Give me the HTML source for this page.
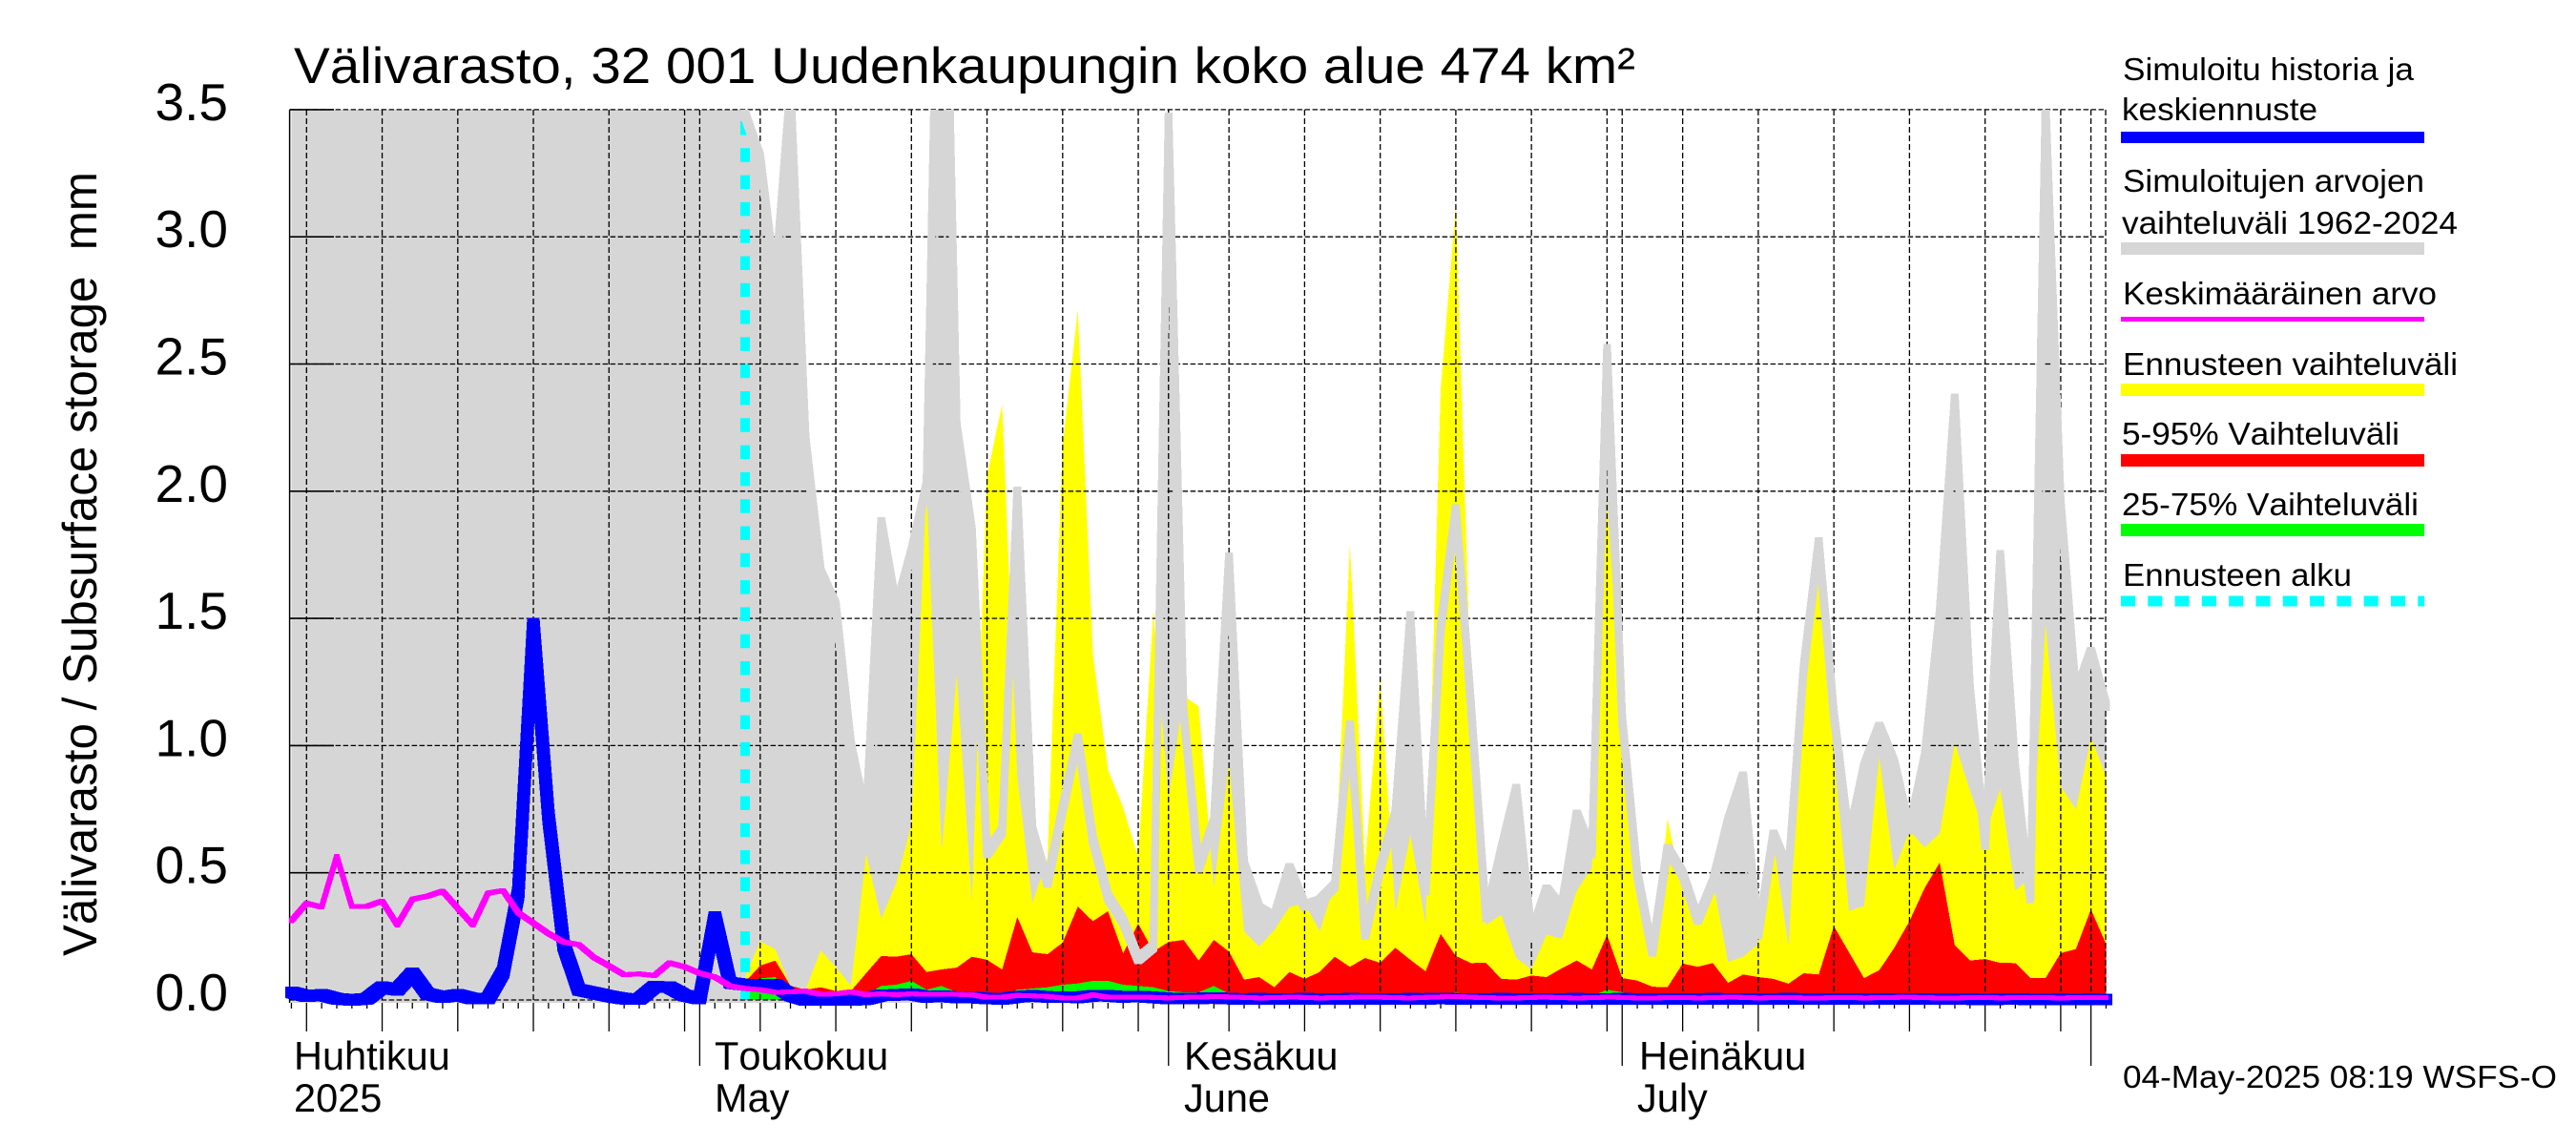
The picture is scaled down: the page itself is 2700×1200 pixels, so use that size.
<!DOCTYPE html>
<html lang="fi">
<head>
<meta charset="utf-8">
<title>Välivarasto, 32 001 Uudenkaupungin koko alue 474 km²</title>
<style>
html,body{margin:0;padding:0;background:#fff;width:2700px;height:1200px;overflow:hidden}
svg{display:block}
text{font-family:"Liberation Sans",sans-serif;fill:#000;font-kerning:none}
.leg{font-size:33px}
</style>
</head>
<body>
<svg id="chart" xmlns="http://www.w3.org/2000/svg" width="2700" height="1200" viewBox="0 0 2700 1200">
  <defs><clipPath id="plot-clip"><rect x="295" y="115" width="1920" height="939"/></clipPath></defs>
  <rect x="0" y="0" width="2700" height="1200" fill="#fff"/>
  <text x="308" y="87" font-size="53" textLength="1406" lengthAdjust="spacingAndGlyphs">Välivarasto, 32 001 Uudenkaupungin koko alue 474 km²</text>
  <text transform="translate(101,1002) rotate(-90)" font-size="50" textLength="822" lengthAdjust="spacingAndGlyphs">Välivarasto / Subsurface storage &#160;mm</text>
  <g id="bands" clip-path="url(#plot-clip)"></g>
  <g id="grid"></g>
  <g id="axes"></g>
  <g id="lines" clip-path="url(#plot-clip)"></g>

  <g>
    <g>
      <text class="leg" x="2225" y="84" textLength="305" lengthAdjust="spacingAndGlyphs">Simuloitu historia ja</text>
      <text class="leg" x="2224" y="126" textLength="205" lengthAdjust="spacingAndGlyphs">keskiennuste</text>
      <rect x="2223" y="138" width="318" height="12" fill="#0000ff"/>
    </g>
    <g>
      <text class="leg" x="2225" y="201" textLength="316" lengthAdjust="spacingAndGlyphs">Simuloitujen arvojen</text>
      <text class="leg" x="2224" y="245" textLength="352" lengthAdjust="spacingAndGlyphs">vaihteluväli 1962-2024</text>
      <rect x="2223" y="254" width="318" height="13" fill="#d6d6d6"/>
    </g>
    <g>
      <text class="leg" x="2225" y="319" textLength="329" lengthAdjust="spacingAndGlyphs">Keskimääräinen arvo</text>
      <rect x="2223" y="332" width="318" height="5" fill="#ff00ff"/>
    </g>
    <g>
      <text class="leg" x="2225" y="393" textLength="351" lengthAdjust="spacingAndGlyphs">Ennusteen vaihteluväli</text>
      <rect x="2223" y="402" width="318" height="13" fill="#ffff00"/>
    </g>
    <g>
      <text class="leg" x="2224" y="466" textLength="291" lengthAdjust="spacingAndGlyphs">5-95% Vaihteluväli</text>
      <rect x="2223" y="476" width="318" height="13" fill="#ff0000"/>
    </g>
    <g>
      <text class="leg" x="2224" y="540" textLength="311" lengthAdjust="spacingAndGlyphs">25-75% Vaihteluväli</text>
      <rect x="2223" y="549" width="318" height="13" fill="#00ff00"/>
    </g>
    <g>
      <text class="leg" x="2225" y="614" textLength="240" lengthAdjust="spacingAndGlyphs">Ennusteen alku</text>
      <line x1="2223" y1="630" x2="2541" y2="630" stroke="#00ffff" stroke-width="11" stroke-dasharray="15 13.3"/>
    </g>
  </g>
  <text class="leg" x="2225" y="1140" textLength="455" lengthAdjust="spacingAndGlyphs">04-May-2025 08:19 WSFS-O</text>
</svg>

<script>
// Day offsets are relative to 1 May 2025. History series start at day -27, forecast bands at day 3.
const historyStartDay = -27;
const forecastStartDay = 3;
const forecastLineDay = 3;

const yTicks = [0, 0.5, 1, 1.5, 2, 2.5, 3, 3.5];
const yTickLabels = ['0.0', '0.5', '1.0', '1.5', '2.0', '2.5', '3.0', '3.5'];
const monthDays = [0, 31, 61, 92];
const gridDays = [-26, -21, -16, -11, -6, -1, 0, 4, 9, 14, 19, 24, 29, 31, 35, 40, 45, 50, 55, 60, 61, 65, 70, 75, 80, 85, 90, 92];
const monthLabels = [
  ['Huhtikuu', '2025', -27, 308, 308],
  ['Toukokuu', 'May', 0, 749, 749],
  ['Kesäkuu', 'June', 31, 1241, 1241],
  ['Heinäkuu', 'July', 61, 1718, 1716]
];

const greyMax = [
  4.1,4.3,4.2,4.0,4.4,4.2,4.1,4.3,4.5,4.2,4.0,4.3,4.2,4.4,4.1,4.6,5.0,4.5,4.2,4.1,4.0,4.2,4.1,4.0,4.3,4.1,4.2,4.4,4.1,4.0,
  3.48,3.31,2.82,3.59,2.2,1.68,1.55,1.0,.71,1.88,1.54,1.76,2.02,5.0,2.25,1.84,.575,.665,2.0,.665,.46,.75,1.03,.63,.405,.31,.16,.21,3.47,1.13,
  .52,.7,1.74,.53,.36,.325,.52,.37,.39,.45,1.08,.255,.52,.73,1.51,.43,1.46,1.93,1.155,.325,.585,.83,.255,.435,.36,.73,.575,2.56,1.1,.495,
  .19,.595,.495,.315,.46,.7,.88,.257,.65,.505,1.3,1.8,1.12,.635,.915,1.075,.93,.67,.95,1.52,2.365,1.22,.607,1.75,.905,.4,3.52,1.95,1.2,1.37,1.155
];
const greyFloor = -0.012;

const yellowTop = [
  .09,.23,.2,.055,.04,.195,.13,.055,.574,.32,.46,.69,2.02,.586,1.28,.39,2.06,2.34,.88,.38,.56,2.18,2.71,1.36,.905,.757,.56,1.53,.79,1.195,
  1.155,.44,.93,.27,.21,.275,.365,.38,.27,.46,1.79,.53,1.27,.35,.65,.3,2.4,3.12,1.2,.295,.335,.165,.12,.257,.24,.43,.52,1.97,1.07,.495,
  .16,.71,.43,.29,.47,.15,.17,.22,.62,.21,1.31,1.69,.95,.35,.37,.955,.51,.665,.6,.655,1.01,.825,.65,.83,.43,.48,1.48,.84,.75,1.03,.88
];
const redTop = [
  .07,.135,.155,.056,.04,.05,.035,.035,.105,.173,.17,.18,.11,.12,.127,.17,.158,.12,.326,.187,.18,.225,.367,.31,.349,.184,.3,.19,.228,.236,
  .155,.236,.19,.08,.09,.05,.11,.083,.11,.17,.13,.165,.146,.205,.158,.113,.26,.173,.145,.146,.083,.08,.096,.09,.124,.155,.12,.255,.086,.076,
  .052,.05,.143,.13,.145,.067,.1,.09,.083,.064,.105,.1,.29,.187,.086,.117,.205,.31,.44,.54,.214,.155,.161,.146,.145,.086,.086,.184,.2,.356,.22
];
const greenTop = [
  .06,.085,.09,.02,.01,.015,.01,.01,.02,.055,.06,.075,.04,.055,.03,.025,.02,.015,.04,.045,.05,.06,.065,.075,.075,.06,.055,.05,.035,.03,
  .03,.055,.025,.02,.015,.015,.015,.015,.015,.015,.015,.015,.015,.015,.015,.015,.02,.03,.015,.015,.015,.015,.015,.015,.015,.015,.015,.04,.03,.015,
  .015,.015,.015,.015,.015,.015,.015,.015,.015,.015,.015,.015,.015,.015,.015,.015,.015,.015,.015,.015,.015,.015,.015,.015,.015,.015,.015,.015,.015,.015,.015
];
const blueLine = [
  .03,.015,.02,.005,0,.005,.05,.04,.105,.024,.011,.02,.005,.005,.11,.42,1.48,.72,.215,.04,.028,.015,.005,.003,.052,.05,.018,.005,.326,.067,
  .06,.06,.06,.018,0,0,0,0,.003,.018,.02,.023,.012,.015,.01,.01,.006,.004,.012,.016,.012,.012,.01,.016,.016,.012,.014,.01,.006,.006,
  .006,.008,.005,.004,.005,.003,.004,.005,.004,.003,.005,.004,.004,.003,.005,.004,.006,.004,.003,.004,.005,.004,.003,.004,.004,.005,.003,.004,.005,.004,
  .003,.004,.004,.003,.005,.004,.004,.003,.004,.005,.004,.003,.004,.004,.003,.004,.004,.003,.004,.004,.003,.003,.002,.003,.004,.002,.002,.003,.001,.003,.002
];
const magentaLine = [
  .311,.38,.365,.565,.368,.368,.389,.295,.396,.408,.428,.361,.295,.42,.43,.343,.3025,.261,.2275,.2175,.1675,.134,.099,.1025,.096,.146,.13,.105,.09,.055,
  .045,.04,.03,.032,.035,.022,.024,.032,.021,.024,.021,.024,.022,.022,.022,.02,.011,.011,.018,.016,.014,.008,.008,.02,.011,.011,.012,.01,.008,.01,
  .011,.013,.012,.01,.008,.009,.011,.01,.008,.009,.01,.012,.011,.009,.008,.01,.012,.014,.011,.009,.008,.008,.01,.011,.009,.008,.009,.011,.01,.008,
  .008,.009,.01,.008,.009,.011,.01,.008,.009,.01,.008,.008,.009,.01,.008,.009,.01,.011,.009,.008,.008,.009,.01,.008,.009,.01,.009,.008,.009,.01,.009
];

// Axis functions
const plotLeft = 303.6, plotRight = 2207, plotTop = 115, plotBottom = 1051;
function xScale(day) { return 733.4 + 15.85 * day; }
function yScale(v) { return 1048 - 266.6 * v; }

const NS = 'http://www.w3.org/2000/svg';
function make(parent, tag, attrs, txt) {
  const el = document.createElementNS(NS, tag);
  for (const k in attrs) el.setAttribute(k, attrs[k]);
  if (txt !== undefined) el.textContent = txt;
  parent.appendChild(el);
  return el;
}

function bandPath(values, startDay, floor) {
  let d = '';
  values.forEach(function (v, i) {
    d += (i ? 'L' : 'M') + xScale(startDay + i).toFixed(1) + ' ' + yScale(v).toFixed(1);
  });
  d += 'L' + xScale(startDay + values.length - 1).toFixed(1) + ' ' + yScale(floor).toFixed(1);
  d += 'L' + xScale(startDay).toFixed(1) + ' ' + yScale(floor).toFixed(1) + 'Z';
  return d;
}

// Thick line traced with a rectangular pen, as the plotting device does
function penPath(values, startDay, w, h) {
  let d = '';
  for (let i = 0; i + 1 < values.length; i++) {
    const x1 = xScale(startDay + i), x2 = xScale(startDay + i + 1);
    const y1 = yScale(values[i]), y2 = yScale(values[i + 1]);
    let p;
    if (y2 < y1) {
      p = [[x1 - w, y1 - h], [x2 - w, y2 - h], [x2 + w, y2 - h], [x2 + w, y2 + h], [x1 + w, y1 + h], [x1 - w, y1 + h]];
    } else {
      p = [[x1 - w, y1 - h], [x1 + w, y1 - h], [x2 + w, y2 - h], [x2 + w, y2 + h], [x2 - w, y2 + h], [x1 - w, y1 + h]];
    }
    d += 'M' + p.map(function (q) { return q[0].toFixed(1) + ' ' + q[1].toFixed(1); }).join('L') + 'Z';
  }
  return d;
}

const bands = document.getElementById('bands');
const grid = document.getElementById('grid');
const axes = document.getElementById('axes');
const lines = document.getElementById('lines');

const greyBand = make(bands, 'path', { d: bandPath(greyMax, historyStartDay, greyFloor), fill: '#d6d6d6', 'shape-rendering': 'crispEdges' });


const yellowBand = make(bands, 'path', { d: bandPath(yellowTop, forecastStartDay, 0), fill: '#ffff00', 'shape-rendering': 'crispEdges' });


const redBand = make(bands, 'path', { d: bandPath(redTop, forecastStartDay, 0), fill: '#ff0000', 'shape-rendering': 'crispEdges' });


const greenBand = make(bands, 'path', { d: bandPath(greenTop, forecastStartDay, 0), fill: '#00ff00', 'shape-rendering': 'crispEdges' });



// Grid
yTicks.forEach(function (v) {
  const gl = make(grid, 'line', { x1: plotLeft, x2: plotRight, y1: yScale(v), y2: yScale(v), stroke: '#000', 'stroke-width': 1.3, 'stroke-dasharray': '5.5 2.5' });
  
  
});
gridDays.forEach(function (day) {
  const gl = make(grid, 'line', { x1: xScale(day), x2: xScale(day), y1: plotTop, y2: plotBottom, stroke: '#000', 'stroke-width': 1.3, 'stroke-dasharray': '6 3' });
  
  
});
const rightEdge = make(grid, 'line', { x1: plotRight, x2: plotRight, y1: plotTop, y2: plotBottom, stroke: '#000', 'stroke-width': 1.3, 'stroke-dasharray': '6 3' });



// Forecast start marker
const cyan = make(grid, 'line', { x1: xScale(forecastLineDay), x2: xScale(forecastLineDay), y1: 127, y2: 1048, stroke: '#00ffff', 'stroke-width': 10, 'stroke-dasharray': '14.5 13.8' });



// Axes
const yAxis = make(axes, 'line', { x1: plotLeft, x2: plotLeft, y1: plotTop, y2: plotBottom, stroke: '#000', 'stroke-width': 1.5 });


yTicks.forEach(function (v, i) {
  if (v > 0) {
    const t = make(axes, 'line', { x1: plotLeft, x2: 350, y1: yScale(v), y2: yScale(v), stroke: '#000', 'stroke-width': 1.6 });
    
    
  }
  const lab = make(axes, 'text', { x: 239, y: yScale(v) + 11, 'font-size': 55, 'text-anchor': 'end' }, yTickLabels[i]);
  
  
});
for (let day = historyStartDay; day <= 93; day++) {
  let end = 1057;
  if (gridDays.indexOf(day) >= 0) end = 1081;
  if (monthDays.indexOf(day) >= 0) end = 1117;
  const t = make(axes, 'line', { x1: xScale(day), x2: xScale(day), y1: plotBottom, y2: end, stroke: '#000', 'stroke-width': 1.3 });
  
  
}
monthLabels.forEach(function (m) {
  const a = make(axes, 'text', { x: m[3], y: 1121, 'font-size': 41.5 }, m[0]);
  
  
  const b = make(axes, 'text', { x: m[4], y: 1165, 'font-size': 41.5 }, m[1]);
  
  
});

// Series lines
const greyLine = make(lines, 'path', { d: penPath(greyMax, historyStartDay, 4, 5), fill: '#d6d6d6', 'shape-rendering': 'crispEdges' });


const blue = make(lines, 'path', { d: penPath(blueLine, historyStartDay, 6.5, 6), fill: '#0000ff', 'shape-rendering': 'crispEdges' });


const magenta = make(lines, 'path', { d: penPath(magentaLine, historyStartDay, 2.5, 2.5), fill: '#ff00ff', 'shape-rendering': 'crispEdges' });


</script>
</body>
</html>
